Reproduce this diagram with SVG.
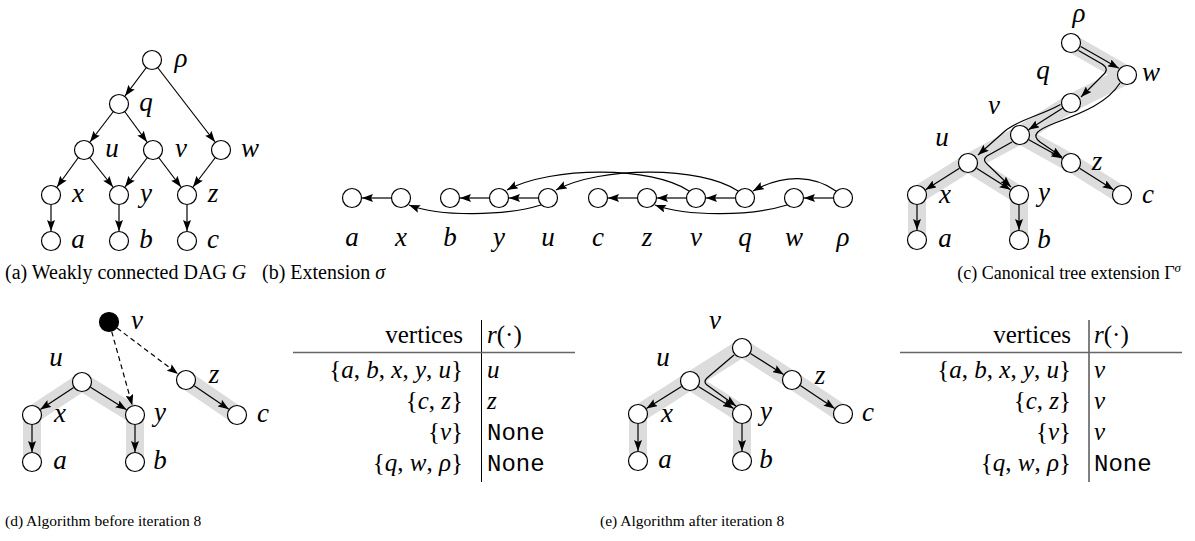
<svg xmlns="http://www.w3.org/2000/svg" width="1195" height="541" viewBox="0 0 1195 541">
<style>
.n{fill:#fff;stroke:#000;stroke-width:1.2}
.nf{fill:#000;stroke:#000;stroke-width:1.2}
.e{fill:none;stroke:#000;stroke-width:1.2;marker-end:url(#ah)}
.d{fill:none;stroke:#000;stroke-width:1.2;stroke-dasharray:5 3.5;marker-end:url(#ah)}
.band{fill:none;stroke:#dcdcdc;stroke-width:18;stroke-linejoin:round}
.l{font-family:"Liberation Serif",serif;font-style:italic;font-size:27px;text-anchor:middle}
.cap{font-family:"Liberation Serif",serif;font-size:20px}
.capc{font-family:"Liberation Serif",serif;font-size:18px}
.capb{font-family:"Liberation Serif",serif;font-size:15.5px}
.tb{font-family:"Liberation Serif",serif;font-size:25px}
.it{font-style:italic}
.mono{font-family:"Liberation Mono",monospace;font-size:24px}
.rule{stroke:#666;stroke-width:1.5}
.vl{stroke:#000;stroke-width:1}
</style>
<defs>
<marker id="ah" viewBox="0 0 11 8" refX="11" refY="4" markerWidth="11" markerHeight="8" markerUnits="userSpaceOnUse" orient="auto">
<path d="M0,0 L11,4 L0,8 L2,4 z" fill="#000"/>
</marker>
</defs>

<!-- highlight bands -->
<g id="bands">
<polyline class="band" points="917,240 917,195 968,163 1020,135 1071,103 1127,75 1071,43"/>
<polyline class="band" points="968,163 1019,195 1019,240"/>
<polyline class="band" points="1020,135 1071,163 1122,195"/>
<polyline class="band" points="32,462 32,415 82,382 135,415 135,462"/>
<polyline class="band" points="186,380 237,415"/>
<polyline class="band" points="638,461 638,414 690,381 742,348 792,380 843,414"/>
<polyline class="band" points="690,381 742,414 742,461"/>
</g>

<!-- connectors -->
<g id="connectors">
<!-- (a) -->
<path class="e" d="M146,68 L125,96"/>
<path class="e" d="M158,68 L215,142"/>
<path class="e" d="M113,112 L90,142"/>
<path class="e" d="M125,112 L147,142"/>
<path class="e" d="M78,158 L57,187"/>
<path class="e" d="M90,158 L113,187"/>
<path class="e" d="M147,158 L125,187"/>
<path class="e" d="M159,158 L181,187"/>
<path class="e" d="M215,158 L193,187"/>
<path class="e" d="M51,205 L51,231"/>
<path class="e" d="M119,205 L119,231"/>
<path class="e" d="M187,205 L187,231"/>
<!-- (b) -->
<path class="e" d="M391,198 L362,198"/>
<path class="e" d="M489,198 L460,198"/>
<path class="e" d="M538,198 L509,198"/>
<path class="e" d="M637,198 L608,198"/>
<path class="e" d="M686,198 L657,198"/>
<path class="e" d="M735,198 L706,198"/>
<path class="e" d="M833,198 L804,198"/>
<path class="e" d="M541,205 C505,216 440,217 409,205"/>
<path class="e" d="M787,205 C752,216 688,217 655,205"/>
<path class="e" d="M689,191 C652,166 552,166 507,190"/>
<path class="e" d="M738,191 C701,166 601,166 556,190"/>
<path class="e" d="M836,191 C815,176 785,173 753,191"/>
<!-- (c) -->
<path class="e" d="M1080.7,46.5 L1118.8,68.3"/>
<path class="e" d="M1078.5,50.5 L1102,64 Q1110,69 1103,75 L1081,97"/>
<path class="e" d="M1120,83 C1108,102 1085,112 1055,123 C1037,130 1031,135 1040,142 L1062,157"/>
<path class="e" d="M1062.5,108.3 L1028.5,129.7"/>
<path class="e" d="M1060.5,104.5 C1040,116 1020,119 1005,131 L978,155"/>
<path class="e" d="M1028.8,139.8 L1062.2,158.2"/>
<path class="e" d="M1012,142 L987,156 Q982,160 987,164 L1011,187"/>
<path class="e" d="M976.5,168.3 L1010.5,189.7"/>
<path class="e" d="M959.5,168.3 L925.5,189.7"/>
<path class="e" d="M917,205 L917,230"/>
<path class="e" d="M1019,205 L1019,230"/>
<path class="e" d="M1079.5,168.3 L1113.5,189.7"/>
<!-- (d) -->
<path class="d" d="M111.7,331.6 L132.3,405.4"/>
<path class="d" d="M117,328 L178,374"/>
<path class="e" d="M73.7,387.5 L40.3,409.5"/>
<path class="e" d="M90.5,387.3 L126.5,409.7"/>
<path class="e" d="M32,425 L32,452"/>
<path class="e" d="M135,425 L135,452"/>
<path class="e" d="M194.2,385.7 L228.8,409.3"/>
<!-- (e) -->
<path class="e" d="M750.4,353.4 L783.6,374.6"/>
<path class="e" d="M800.3,385.5 L834.7,408.5"/>
<path class="e" d="M681.6,386.4 L646.4,408.6"/>
<path class="e" d="M698.4,386.4 L733.6,408.6"/>
<path class="e" d="M734,355 L707,378 Q703,382 707,385 L736,406"/>
<path class="e" d="M638,424 L638,451"/>
<path class="e" d="M742,424 L742,451"/>
</g>

<!-- (a) nodes -->
<g id="a-rho"><circle class="n" cx="152" cy="60" r="9.5"/><text class="l" x="181" y="67">ρ</text></g>
<g id="a-q"><circle class="n" cx="119" cy="104" r="9.5"/><text class="l" x="146" y="111">q</text></g>
<g id="a-u"><circle class="n" cx="84" cy="150" r="9.5"/><text class="l" x="112" y="157">u</text></g>
<g id="a-v"><circle class="n" cx="153" cy="150" r="9.5"/><text class="l" x="181" y="157">v</text></g>
<g id="a-w"><circle class="n" cx="221" cy="150" r="9.5"/><text class="l" x="250" y="157">w</text></g>
<g id="a-x"><circle class="n" cx="51" cy="195" r="9.5"/><text class="l" x="78" y="202">x</text></g>
<g id="a-y"><circle class="n" cx="119" cy="195" r="9.5"/><text class="l" x="146" y="202">y</text></g>
<g id="a-z"><circle class="n" cx="187" cy="195" r="9.5"/><text class="l" x="213" y="202">z</text></g>
<g id="a-a"><circle class="n" cx="51" cy="241" r="9.5"/><text class="l" x="78" y="248">a</text></g>
<g id="a-b"><circle class="n" cx="119" cy="241" r="9.5"/><text class="l" x="146" y="248">b</text></g>
<g id="a-c"><circle class="n" cx="187" cy="241" r="9.5"/><text class="l" x="213" y="248">c</text></g>

<!-- (b) nodes -->
<g id="b-a"><circle class="n" cx="352" cy="198" r="9.5"/><text class="l" x="352" y="246">a</text></g>
<g id="b-x"><circle class="n" cx="401" cy="198" r="9.5"/><text class="l" x="401" y="246">x</text></g>
<g id="b-b"><circle class="n" cx="450" cy="198" r="9.5"/><text class="l" x="450" y="246">b</text></g>
<g id="b-y"><circle class="n" cx="499" cy="198" r="9.5"/><text class="l" x="499" y="246">y</text></g>
<g id="b-u"><circle class="n" cx="548" cy="198" r="9.5"/><text class="l" x="548" y="246">u</text></g>
<g id="b-c"><circle class="n" cx="598" cy="198" r="9.5"/><text class="l" x="598" y="246">c</text></g>
<g id="b-z"><circle class="n" cx="647" cy="198" r="9.5"/><text class="l" x="647" y="246">z</text></g>
<g id="b-v"><circle class="n" cx="696" cy="198" r="9.5"/><text class="l" x="696" y="246">v</text></g>
<g id="b-q"><circle class="n" cx="745" cy="198" r="9.5"/><text class="l" x="745" y="246">q</text></g>
<g id="b-w"><circle class="n" cx="794" cy="198" r="9.5"/><text class="l" x="794" y="246">w</text></g>
<g id="b-rho"><circle class="n" cx="843" cy="198" r="9.5"/><text class="l" x="843" y="246">ρ</text></g>

<!-- (c) nodes -->
<g id="c-rho"><circle class="n" cx="1071" cy="43" r="9.5"/><text class="l" x="1079" y="22">ρ</text></g>
<g id="c-w"><circle class="n" cx="1127" cy="75" r="9.5"/><text class="l" x="1151" y="81">w</text></g>
<g id="c-q"><circle class="n" cx="1071" cy="103" r="9.5"/><text class="l" x="1043" y="79">q</text></g>
<g id="c-v"><circle class="n" cx="1020" cy="135" r="9.5"/><text class="l" x="994" y="114">v</text></g>
<g id="c-u"><circle class="n" cx="968" cy="163" r="9.5"/><text class="l" x="942" y="146">u</text></g>
<g id="c-z"><circle class="n" cx="1071" cy="163" r="9.5"/><text class="l" x="1097" y="170">z</text></g>
<g id="c-x"><circle class="n" cx="917" cy="195" r="9.5"/><text class="l" x="945" y="203">x</text></g>
<g id="c-y"><circle class="n" cx="1019" cy="195" r="9.5"/><text class="l" x="1044" y="201">y</text></g>
<g id="c-c"><circle class="n" cx="1122" cy="195" r="9.5"/><text class="l" x="1148" y="203">c</text></g>
<g id="c-a"><circle class="n" cx="917" cy="240" r="9.5"/><text class="l" x="945" y="247">a</text></g>
<g id="c-b"><circle class="n" cx="1019" cy="240" r="9.5"/><text class="l" x="1044" y="248">b</text></g>

<!-- (d) nodes -->
<g id="d-v"><circle class="nf" cx="109" cy="322" r="9.5"/><text class="l" x="137" y="329">v</text></g>
<g id="d-u"><circle class="n" cx="82" cy="382" r="9.5"/><text class="l" x="56" y="366">u</text></g>
<g id="d-x"><circle class="n" cx="32" cy="415" r="9.5"/><text class="l" x="60" y="422">x</text></g>
<g id="d-y"><circle class="n" cx="135" cy="415" r="9.5"/><text class="l" x="160" y="421">y</text></g>
<g id="d-z"><circle class="n" cx="186" cy="380" r="9.5"/><text class="l" x="214" y="383">z</text></g>
<g id="d-c"><circle class="n" cx="237" cy="415" r="9.5"/><text class="l" x="263" y="422">c</text></g>
<g id="d-a"><circle class="n" cx="32" cy="462" r="9.5"/><text class="l" x="60" y="469">a</text></g>
<g id="d-b"><circle class="n" cx="135" cy="462" r="9.5"/><text class="l" x="160" y="469">b</text></g>

<!-- (e) nodes -->
<g id="e-v"><circle class="n" cx="742" cy="348" r="9.5"/><text class="l" x="715" y="329">v</text></g>
<g id="e-u"><circle class="n" cx="690" cy="381" r="9.5"/><text class="l" x="663" y="366">u</text></g>
<g id="e-x"><circle class="n" cx="638" cy="414" r="9.5"/><text class="l" x="667" y="422">x</text></g>
<g id="e-y"><circle class="n" cx="742" cy="414" r="9.5"/><text class="l" x="766" y="420">y</text></g>
<g id="e-z"><circle class="n" cx="792" cy="380" r="9.5"/><text class="l" x="820" y="384">z</text></g>
<g id="e-c"><circle class="n" cx="843" cy="414" r="9.5"/><text class="l" x="868" y="421">c</text></g>
<g id="e-a"><circle class="n" cx="638" cy="461" r="9.5"/><text class="l" x="665" y="468">a</text></g>
<g id="e-b"><circle class="n" cx="742" cy="461" r="9.5"/><text class="l" x="766" y="468">b</text></g>

<!-- table (d) -->
<g id="table-d">
<line class="vl" x1="481.5" y1="320" x2="481.5" y2="482"/>
<line class="rule" x1="293" y1="352.5" x2="575" y2="352.5"/>
<text class="tb" x="463" y="343" text-anchor="end">vertices</text>
<text class="tb" x="487" y="343"><tspan class="it">r</tspan>(·)</text>
<text class="tb" x="463" y="378" text-anchor="end">{<tspan class="it">a</tspan>, <tspan class="it">b</tspan>, <tspan class="it">x</tspan>, <tspan class="it">y</tspan>, <tspan class="it">u</tspan>}</text>
<text class="tb it" x="487" y="378">u</text>
<text class="tb" x="463" y="409" text-anchor="end">{<tspan class="it">c</tspan>, <tspan class="it">z</tspan>}</text>
<text class="tb it" x="487" y="409">z</text>
<text class="tb" x="463" y="440" text-anchor="end">{<tspan class="it">v</tspan>}</text>
<text class="mono" x="487" y="440">None</text>
<text class="tb" x="463" y="471" text-anchor="end">{<tspan class="it">q</tspan>, <tspan class="it">w</tspan>, <tspan class="it">ρ</tspan>}</text>
<text class="mono" x="487" y="471">None</text>
</g>

<!-- table (e) -->
<g id="table-e">
<line class="vl" x1="1089" y1="320" x2="1089" y2="482"/>
<line class="rule" x1="900" y1="352.5" x2="1182" y2="352.5"/>
<text class="tb" x="1071" y="343" text-anchor="end">vertices</text>
<text class="tb" x="1094" y="343"><tspan class="it">r</tspan>(·)</text>
<text class="tb" x="1071" y="378" text-anchor="end">{<tspan class="it">a</tspan>, <tspan class="it">b</tspan>, <tspan class="it">x</tspan>, <tspan class="it">y</tspan>, <tspan class="it">u</tspan>}</text>
<text class="tb it" x="1094" y="378">v</text>
<text class="tb" x="1071" y="409" text-anchor="end">{<tspan class="it">c</tspan>, <tspan class="it">z</tspan>}</text>
<text class="tb it" x="1094" y="409">v</text>
<text class="tb" x="1071" y="440" text-anchor="end">{<tspan class="it">v</tspan>}</text>
<text class="tb it" x="1094" y="440">v</text>
<text class="tb" x="1071" y="471" text-anchor="end">{<tspan class="it">q</tspan>, <tspan class="it">w</tspan>, <tspan class="it">ρ</tspan>}</text>
<text class="mono" x="1094" y="471">None</text>
</g>

<!-- captions -->
<g id="captions">
<text class="cap" x="5" y="279">(a) Weakly connected DAG <tspan class="it">G</tspan></text>
<text class="cap" x="262" y="279">(b) Extension <tspan class="it">σ</tspan></text>
<text class="capc" x="1181" y="279" text-anchor="end">(c) Canonical tree extension Γ<tspan class="it" font-size="13" dy="-7">σ</tspan></text>
<text class="capb" x="5" y="526">(d) Algorithm before iteration 8</text>
<text class="capb" x="600" y="526">(e) Algorithm after iteration 8</text>
</g>
</svg>
